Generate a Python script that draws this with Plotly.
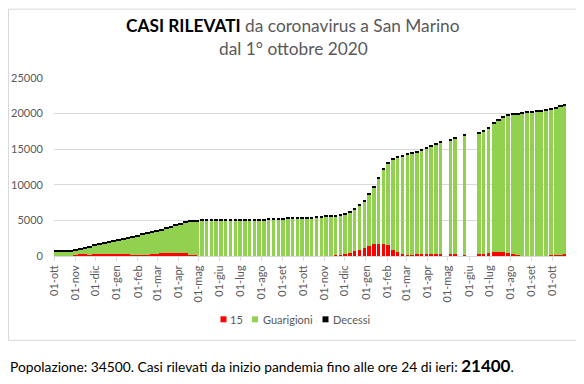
import pandas as pd
import plotly.graph_objects as go

# ---------------- DATA ----------------
# Period A: daily reporting (no gaps), grouped in 7-day blocks starting 1 Oct 2020
period_a_start = "2020-10-01"
total_a = [800, 800, 800, 820, 940, 1050, 1250, 1400, 1560, 1700, 1850, 2000, 2150, 2350,
           2500, 2650, 2780, 2950, 3100, 3250, 3400, 3580, 3780, 3980, 4200, 4420, 4620,
           4820, 4950, 5000, 5020]
active_a = [50, 50, 50, 60, 150, 330, 330, 150, 300, 330, 330, 330, 330, 330,
            330, 280, 150, 150, 150, 150, 330, 330, 460, 460, 460, 460, 460,
            400, 150, 100, 30]
deaths_a = [140, 140, 140, 140, 140, 140, 145, 145, 145, 145, 145, 150, 150, 150,
            150, 150, 150, 150, 150, 150, 150, 150, 155, 155, 155, 155, 155,
            155, 155, 155, 155]
days_a = [7, 7, 7, 7, 7, 7, 7, 7, 7, 7, 7, 7, 7, 7, 7, 7, 7, 7, 7, 7, 7, 7, 7, 7, 7,
          7, 7, 7, 7, 7, 2]

# Period B: weekday reporting, weeks starting Monday 3 May 2021 (None = no report that week)
period_b_start = "2021-05-03"
total_b = [5080, 5090, 5100, 5100, 5100, 5110,
           5110, 5110, 5110, 5120, 5120, 5120, 5130, 5130,
           5250, 5260, 5270, 5270,
           5420, 5430, 5430, 5430, 5440, 5440,
           5560, 5580,
           5650, 5680, 5740, 5880, 6020, 6250, 6630, 7180, 7880,
           8750, 9800, 11000, 12300, 13200, 13700, 13950, 14200, 14360, 14550, 14730, 14970, 15200,
           15530, 15800, 16080,
           None,
           16450, 16720,
           None,
           17050,
           None, None,
           17400, 17650, 18000,
           18700, 19200, 19600,
           19920, 20020, 20060, 20200, 20290, 20340, 20390, 20480, 20530, 20670, 20850, 21090, 21350]
active_b = [40, 30, 20, 20, 15, 15, 15, 15, 15, 20, 20, 30, 30, 30, 30, 30, 30, 30, 40, 40,
            40, 40, 50, 50, 50, 60, 60, 70, 80,
            100, 325, 460, 650, 830, 1070, 1390, 1620, 1700, 1670, 1600, 850, 510, 325, 190,
            200, 325, 325, 325,
            280, 280, 280,
            None,
            280, 250,
            None,
            200,
            None, None,
            300, 350, 450,
            560, 560, 540,
            370, 300, 150, 40, 40, 40, 40, 40, 40, 190, 190, 190, 300]
deaths_b = [155, 155, 155, 155, 155, 155, 155, 155, 155, 155, 155, 155, 155, 155, 155, 155,
            155, 155, 155, 155, 155, 155, 155, 155, 155, 155, 155, 155, 155, 155, 155, 155,
            155, 155, 160, 160, 160, 160, 160, 160, 160, 160, 160, 160, 160, 160, 160, 160,
            160, 160, 160, None, 160, 160, None, 160, None, None, 160, 160, 160, 160, 160, 160,
            160, 160, 160, 160, 160, 160, 160, 160, 160, 160, 160, 160, 160]
days_b = [5, 5, 5, 5, 5, 5, 5, 5, 5, 5, 5, 5, 5, 5, 5, 5, 5, 5, 5, 5, 5, 5, 5, 5, 5, 5,
          5, 5, 5, 5, 5, 5, 5, 5, 5, 5, 5, 5, 5, 5, 5, 5, 5, 5, 5, 5, 5, 5, 5, 5, 5,
          0, 5, 5, 0, 5, 0, 0, 5, 5, 5, 7, 7, 6,
          6, 6, 6, 6, 6, 6, 6, 6, 6, 6, 6, 6, 4]

month_names = ["gen", "feb", "mar", "apr", "mag", "giu", "lug", "ago", "set", "ott", "nov", "dic"]
y_ticks = [0, 5000, 10000, 15000, 20000, 25000]
series_names = ["15", "Guarigioni", "Decessi"]
series_colors = ["#FF0000", "#92D050", "#000000"]
population = 34500
total_cases = 21400

# ---------------- BUILD ----------------
dates_a = pd.date_range(period_a_start, periods=len(total_a), freq="7D")
dates_b = pd.date_range(period_b_start, periods=len(total_b), freq="7D")

dates, act, rec, dea, wid = [], [], [], [], []
DAY_MS = 86400000
for d, t, a, m, n in list(zip(dates_a, total_a, active_a, deaths_a, days_a)) + \
        list(zip(dates_b, total_b, active_b, deaths_b, days_b)):
    if t is None or n == 0:
        continue
    dates.append(d)
    act.append(a)
    dea.append(m)
    rec.append(t - a - m)
    wid.append(n * DAY_MS)

fig = go.Figure()
for name, vals, col in zip(series_names, [act, rec, dea], series_colors):
    fig.add_trace(go.Bar(x=dates, y=vals, width=wid, offset=0, name=name,
                         marker=dict(color=col, line=dict(width=0)),
                         showlegend=False))

month_ticks = pd.date_range("2020-10-01", "2022-10-01", freq="MS")
tick_text = ["01-" + month_names[d.month - 1] for d in month_ticks]

# page body has an 8px margin: work in page pixels, convert to figure pixels
OFF = 8
W, H = 584 - OFF, 384 - OFF
L, R, T, B = 54 - OFF, 566 - OFF, 77.5 - OFF, 256 - OFF
pw, ph = R - L, B - T

def px(xpage):
    return (xpage - OFF - L) / pw

def py(ypage):
    return (B - (ypage - OFF)) / ph

GRAY = "#595959"
shapes = [dict(type="rect", xref="paper", yref="paper",
               x0=(0.5 - L) / pw, x1=px(579.5), y0=py(340.5), y1=(B - 0.5) / ph,
               line=dict(color="#d9d9d9", width=1), fillcolor="rgba(0,0,0,0)", layer="below")]
annotations = [
    dict(xref="paper", yref="paper", x=px(293), y=py(25), xanchor="center", yanchor="middle",
         showarrow=False,
         text="<span style='color:#000000'><b>CASI RILEVATI</b></span> da coronavirus a San Marino",
         font=dict(family="Lato", size=17.3, color=GRAY)),
    dict(xref="paper", yref="paper", x=px(293), y=py(48), xanchor="center", yanchor="middle",
         showarrow=False, text="dal 1° ottobre 2020",
         font=dict(family="Lato", size=17.3, color=GRAY)),
    dict(xref="paper", yref="paper", x=(0 - L) / pw, y=py(366), xanchor="left", yanchor="middle",
         showarrow=False, align="left",
         text=f"Popolazione: {population}. Casi rilevati da inizio pandemia fino alle ore 24 di ieri: "
              f"<b><span style='font-size:17px'>{total_cases}</span></b>.",
         font=dict(family="Lato", size=13.8, color="#000000")),
]

# legend drawn as small squares + labels (Excel style)
legend_sq_x = [220.5, 252.0, 322.5]
legend_tx_x = [229.0, 261.5, 332.0]
for name, col, sx, tx in zip(series_names, series_colors, legend_sq_x, legend_tx_x):
    shapes.append(dict(type="rect", xref="paper", yref="paper",
                       x0=px(sx), x1=px(sx + 6), y0=py(322.5), y1=py(316.5),
                       line=dict(width=0), fillcolor=col))
    annotations.append(dict(xref="paper", yref="paper", x=px(tx), y=py(319.5),
                            xanchor="left", yanchor="middle", showarrow=False, text=name,
                            borderpad=0, font=dict(family="Lato", size=11, color=GRAY)))

fig.update_layout(
    width=W, height=H,
    margin=dict(l=L, r=W - R, t=T, b=H - B, autoexpand=False),
    paper_bgcolor="white", plot_bgcolor="white",
    barmode="stack", showlegend=False,
    font=dict(family="Lato", color=GRAY, size=11),
    xaxis=dict(
        type="date", range=["2020-10-01", "2022-10-21"],
        tickvals=month_ticks, ticktext=tick_text, tickangle=-90,
        ticks="outside", ticklen=4, tickcolor="#d9d9d9",
        showline=True, linecolor="#d9d9d9", linewidth=1,
        showgrid=False, automargin=False,
        tickfont=dict(family="Lato", size=11, color=GRAY),
    ),
    yaxis=dict(
        range=[0, 25000], tickvals=y_ticks, ticktext=[str(v) for v in y_ticks],
        showgrid=True, gridcolor="#d9d9d9", gridwidth=1,
        zeroline=False, showline=False, ticks="", ticklabelstandoff=10,
        automargin=False,
        tickfont=dict(family="Lato", size=11, color=GRAY),
    ),
    shapes=shapes,
    annotations=annotations,
)

fig.write_html("out.html")
